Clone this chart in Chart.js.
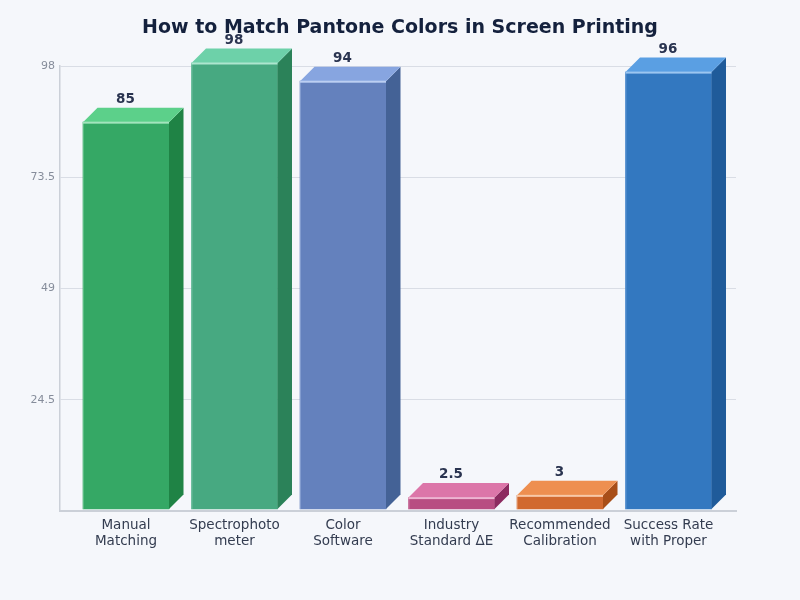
<!DOCTYPE html>
<html>
<head>
<meta charset="utf-8">
<title>How to Match Pantone Colors in Screen Printing</title>
<script src="https://cdn.jsdelivr.net/npm/chart.js@4/dist/chart.umd.min.js"></script>
<style>
  html, body { margin: 0; padding: 0; background: #f5f7fb; }
  canvas { display: block; }
</style>
</head>
<body>
<canvas id="pantoneChart" width="800" height="600"></canvas>
<script>
const categories = [
  ["Manual", "Matching"],
  ["Spectrophoto", "meter"],
  ["Color", "Software"],
  ["Industry", "Standard ΔE"],
  ["Recommended", "Calibration"],
  ["Success Rate", "with Proper"],
];
const values = [85, 98, 94, 2.5, 3, 96];
const yTicks = [0, 24.5, 49, 73.5, 98];

const frontColors = ["#35a865", "#47a981", "#6481bd", "#b84d82", "#d1692f", "#3378c0"];
const topColors = ["#5cd08a", "#6dd1a9", "#87a5e0", "#dc76a9", "#ee8f50", "#5a9fe3"];
const sideColors = ["#1f8345", "#2b8259", "#446296", "#8c2b60", "#a84e18", "#1f5b9a"];
const edgeColors = ["#a3e4bd", "#ade6cf", "#bccff2", "#eeb5d2", "#f8c9a8", "#9cc6f0"];

const DEPTH = 14.5;

// Draws the top and side faces of each bar, plus the value above it
const extrudePlugin = {
  id: "extrude",
  afterDatasetsDraw(chart) {
    const ctx = chart.ctx;
    chart.getDatasetMeta(0).data.forEach((bar, i) => {
      const left = bar.x - bar.width / 2;
      const right = bar.x + bar.width / 2;
      const top = bar.y;
      const base = bar.base;

      ctx.fillStyle = sideColors[i];
      ctx.beginPath();
      ctx.moveTo(right, top);
      ctx.lineTo(right + DEPTH, top - DEPTH);
      ctx.lineTo(right + DEPTH, base - DEPTH);
      ctx.lineTo(right, base);
      ctx.closePath();
      ctx.fill();

      ctx.fillStyle = topColors[i];
      ctx.beginPath();
      ctx.moveTo(left, top);
      ctx.lineTo(left + DEPTH, top - DEPTH);
      ctx.lineTo(right + DEPTH, top - DEPTH);
      ctx.lineTo(right, top);
      ctx.closePath();
      ctx.fill();

      ctx.fillStyle = edgeColors[i];
      ctx.fillRect(left, top - 0.5, bar.width, 2);
      ctx.globalAlpha = 0.35;
      ctx.fillRect(left, top, 1, base - top);
      ctx.globalAlpha = 1;

      ctx.fillStyle = "#2a3450";
      ctx.font = "bold 13.5px 'DejaVu Sans'";
      ctx.textAlign = "center";
      ctx.textBaseline = "middle";
      ctx.fillText(String(values[i]), bar.x - 0.5, top - DEPTH - 8.5);
    });
  },
};

new Chart(document.getElementById("pantoneChart").getContext("2d"), {
  type: "bar",
  data: {
    datasets: [
      {
        data: values.map((v, i) => ({ x: i, y: v })),
        backgroundColor: frontColors,
        borderWidth: 0,
        barThickness: 86,
        xAxisID: "x",
        yAxisID: "yBars",
        clip: false,
      },
    ],
  },
  plugins: [extrudePlugin],
  options: {
    responsive: false,
    animation: false,
    layout: { padding: 0 },
    plugins: {
      legend: { display: false },
      tooltip: { enabled: false },
      title: {
        display: true,
        text: "How to Match Pantone Colors in Screen Printing",
        color: "#14213d",
        font: { family: "'DejaVu Sans'", size: 19, weight: "bold", lineHeight: 1.2 },
        padding: { top: 16.5, bottom: 26.7 },
      },
    },
    scales: {
      x: {
        type: "linear",
        offset: false,
        min: -0.6083,
        max: 5.6221,
        grid: { display: false, drawTicks: false },
        border: { color: "#cbd0d8", width: 2 },
        afterBuildTicks(scale) {
          scale.ticks = categories.map((_, i) => ({ value: i }));
        },
        afterFit(scale) {
          scale.height = 89;
        },
        ticks: {
          color: "#333c50",
          font: { family: "'DejaVu Sans'", size: 13.5, lineHeight: 1.2 },
          padding: 6,
          maxRotation: 0,
          autoSkip: false,
          callback: (v) => categories[v],
        },
      },
      y: {
        min: 0,
        max: 98,
        afterBuildTicks(scale) {
          scale.ticks = yTicks.map((v) => ({ value: v }));
        },
        afterFit(scale) {
          scale.width = 60;
        },
        grid: { color: "#d9dde5", lineWidth: 1, drawTicks: false },
        border: { color: "#cbd0d8", width: 1.5 },
        ticks: {
          color: "#868d9b",
          font: { family: "'DejaVu Sans'", size: 11 },
          padding: 5,
          callback: (v) => (v === 0 ? "" : String(v)),
        },
      },
      // same span as y, with the bars' foot sitting just above the axis line;
      // kept on the right with blank contents to hold the right margin
      yBars: {
        position: "right",
        min: -0.4395,
        max: 97.341,
        grid: { display: false, drawTicks: false },
        border: { display: false },
        ticks: { display: false },
        afterFit(scale) {
          scale.width = 64;
        },
      },
    },
  },
});
</script>
</body>
</html>
